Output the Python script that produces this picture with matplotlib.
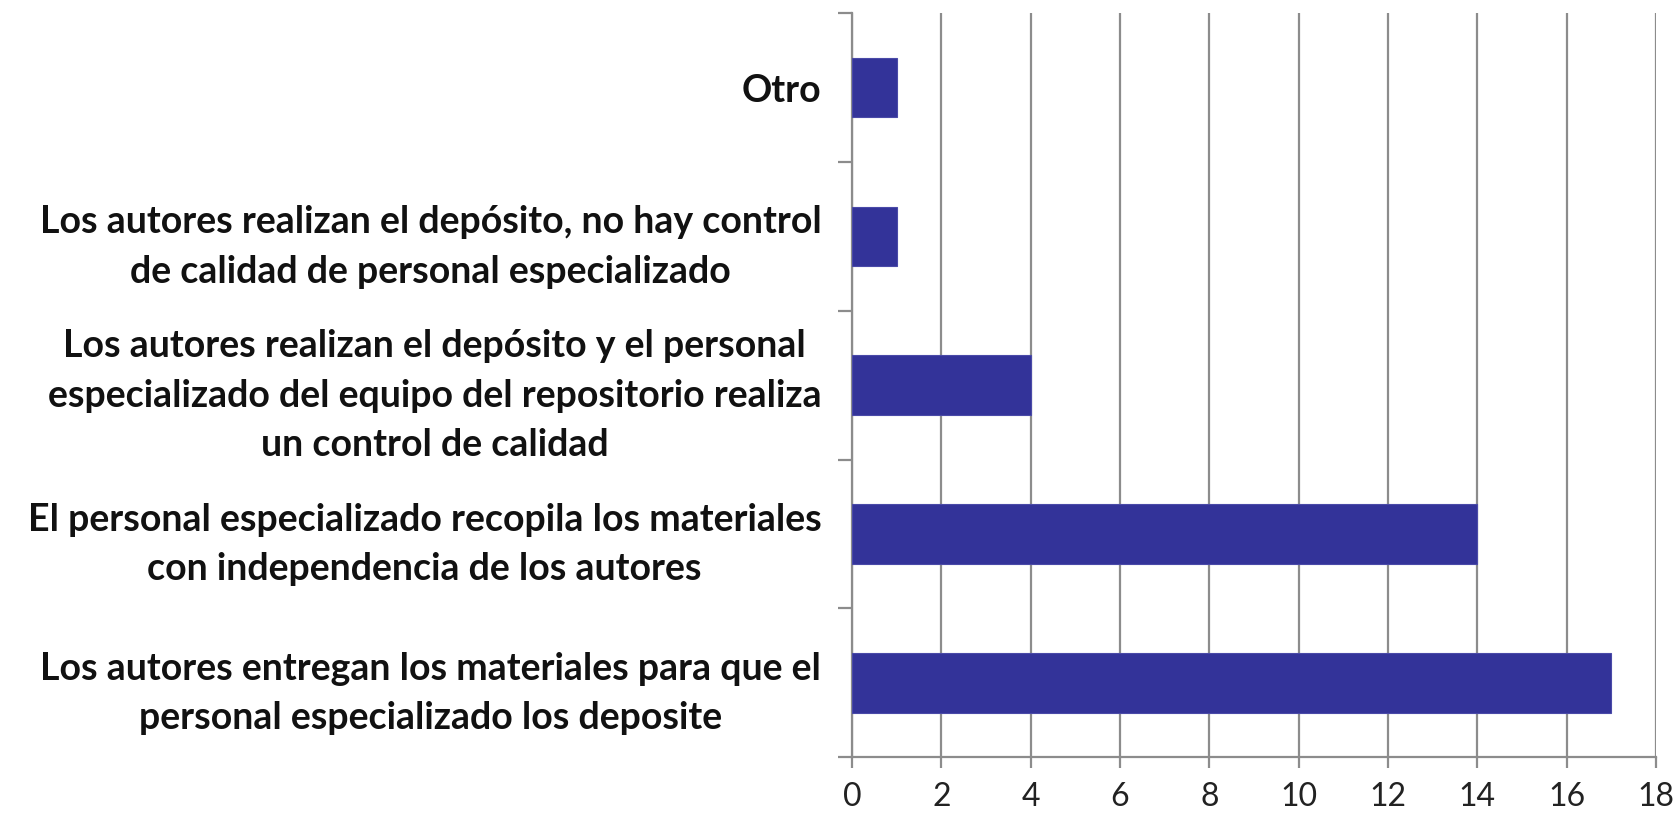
import numpy as np
import matplotlib.pyplot as plt
from matplotlib.ticker import FixedLocator

# categories bottom -> top
categorias = [
    "Los autores entregan los materiales para que el\npersonal especializado los deposite",
    "El personal especializado recopila los materiales\ncon independencia de los autores",
    "Los autores realizan el depósito y el personal\nespecializado del equipo del repositorio realiza\nun control de calidad",
    "Los autores realizan el depósito, no hay control\nde calidad de personal especializado",
    "Otro",
]
valores = [17, 14, 4, 1, 1]
xticks = [0, 2, 4, 6, 8, 10, 12, 14, 16, 18]

plt.rcParams['font.family'] = ['Lato', 'DejaVu Sans']

fig = plt.figure(figsize=(16.77, 8.23), dpi=100)
ax = fig.add_axes([0.508, 0.080, 0.4795, 0.904])

y = np.arange(len(categorias))
ax.barh(y, valores, height=0.4, color="#333399", edgecolor="#4a4aa8", linewidth=0.8, zorder=3)

ax.set_xlim(0, 18)
ax.set_ylim(-0.5, len(categorias) - 0.5)
ax.set_xticks(xticks)
ax.set_xticklabels([str(t) for t in xticks], fontsize=23, color="#222222")
ax.grid(axis="x", color="#8c8c8c", linewidth=1.6, zorder=0)

# y ticks at category boundaries, labels at centers
ax.yaxis.set_major_locator(FixedLocator(np.arange(-0.5, len(categorias), 1.0)))
ax.yaxis.set_minor_locator(FixedLocator(y))
ax.set_yticklabels([], minor=False)
ax.set_yticklabels(categorias, minor=True, fontsize=27, fontweight="bold",
                   multialignment="center", color="#111111", linespacing=1.55)
ax.tick_params(axis="y", which="major", length=10, width=1.6, color="#8c8c8c")
ax.tick_params(axis="y", which="minor", length=0, pad=22)
ax.tick_params(axis="x", length=8, width=1.6, color="#8c8c8c", pad=10)

for s in ["top", "right"]:
    ax.spines[s].set_visible(False)
for s in ["left", "bottom"]:
    ax.spines[s].set_color("#8c8c8c")
    ax.spines[s].set_linewidth(1.6)

fig.savefig("out.png", dpi=100, facecolor="white")
